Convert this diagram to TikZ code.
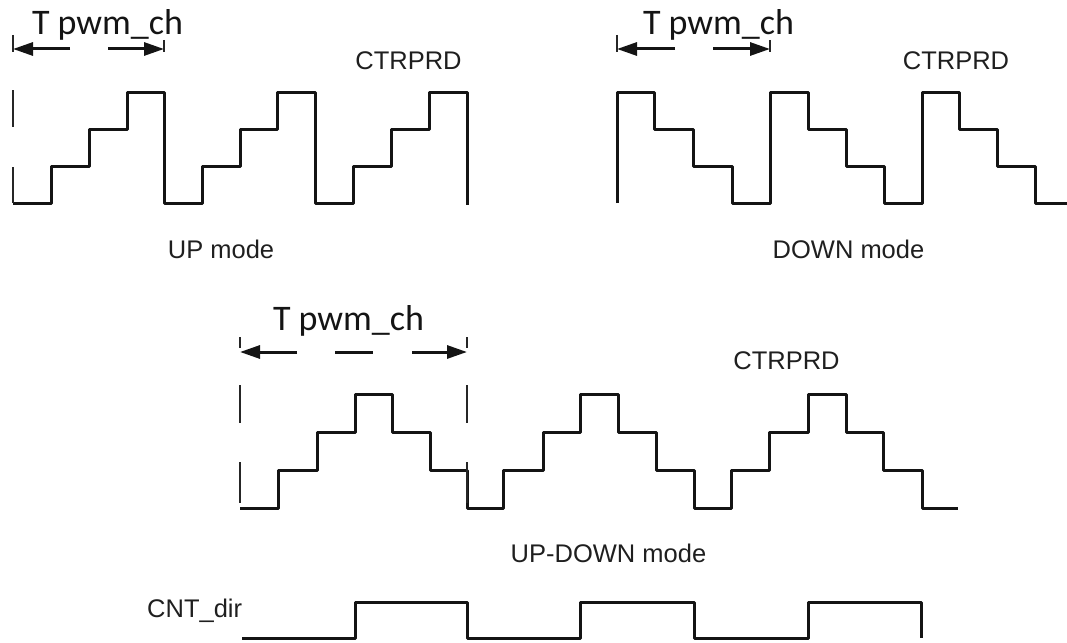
\documentclass[tikz,border=0pt]{standalone}
\usepackage{fontspec}
\setmainfont{Liberation Sans}
\newfontfamily\calfont{Carlito}
\usetikzlibrary{arrows.meta}
\begin{document}
\begin{tikzpicture}[x=1pt,y=-1pt,
  wave/.style={line width=3pt, line join=round, draw=black!92},
  dimline/.style={line width=3pt, draw=black!92},
  guide/.style={line width=2.4pt, draw=black!85},
  lbl/.style={inner sep=0pt, anchor=base, font=\fontsize{25.5}{30}\selectfont, text=black!88},
  tlbl/.style={inner sep=0pt, anchor=base, font=\calfont\fontsize{36}{42}\selectfont, text=black!92},
  tipend/.style={-{Triangle[length=20pt,width=13pt]}}
]
\useasboundingbox (0,0) rectangle (1067,642);

% ---------- UP mode ----------
\draw[wave] (13,203) -- (51,203) -- (51,166) -- (89,166) -- (89,129) -- (127,129) -- (127,92) -- (164,92) -- (164,203)
  -- (202,203) -- (202,166) -- (240,166) -- (240,129) -- (277,129) -- (277,92) -- (315,92) -- (315,203)
  -- (353,203) -- (353,166) -- (391,166) -- (391,129) -- (429,129) -- (429,92) -- (467,92) -- (467,205);
\draw[guide] (13,35) -- (13,52);
\draw[guide] (13,90) -- (13,127);
\draw[guide] (13,167) -- (13,203);
\draw[guide] (164,40) -- (164,52);
\coordinate (upA1) at (70,49);  \coordinate (upA1e) at (13,49);
\coordinate (upA2) at (108,49); \coordinate (upA2e) at (164,49);
\draw[dimline,tipend] (upA1) -- (upA1e);
\draw[dimline,tipend] (upA2) -- (upA2e);
\node[tlbl] (tup) at (107.5,35) {T pwm\_ch};
\node[lbl] (cup) at (408.5,69) {CTRPRD};
\node[lbl] (mup) at (221,258) {UP mode};

% ---------- DOWN mode ----------
\draw[wave] (617,203) -- (617,92) -- (654,92) -- (654,129) -- (693,129) -- (693,166) -- (732,166) -- (732,203)
  -- (770,203) -- (770,92) -- (808,92) -- (808,129) -- (846,129) -- (846,166) -- (884,166) -- (884,203)
  -- (922,203) -- (922,92) -- (959,92) -- (959,129) -- (997,129) -- (997,166) -- (1035,166) -- (1035,203) -- (1067,203);
\draw[guide] (617,35) -- (617,52);
\draw[guide] (770,40) -- (770,52);
\coordinate (dnA1) at (675,49); \coordinate (dnA1e) at (617,49);
\coordinate (dnA2) at (713,49); \coordinate (dnA2e) at (770,49);
\draw[dimline,tipend] (dnA1) -- (dnA1e);
\draw[dimline,tipend] (dnA2) -- (dnA2e);
\node[tlbl] (tdn) at (718.5,35) {T pwm\_ch};
\node[lbl] (cdn) at (956,69) {CTRPRD};
\node[lbl] (mdn) at (848.5,258) {DOWN mode};

% ---------- UP-DOWN mode ----------
\draw[wave] (240,508) -- (278,508) -- (278,470) -- (317,470) -- (317,432) -- (355,432) -- (355,394) -- (392,394)
  -- (392,432) -- (430,432) -- (430,470) -- (467,470) -- (467,508) -- (503,508)
  -- (503,470) -- (543,470) -- (543,432) -- (580,432) -- (580,394) -- (618,394)
  -- (618,432) -- (656,432) -- (656,470) -- (694,470) -- (694,508) -- (731,508)
  -- (731,470) -- (769,470) -- (769,432) -- (808,432) -- (808,394) -- (846,394)
  -- (846,432) -- (883,432) -- (883,470) -- (922,470) -- (922,508) -- (958,508);
\draw[guide] (240,337) -- (240,348);
\draw[guide] (240,385) -- (240,423);
\draw[guide] (240,462) -- (240,503);
\draw[guide] (467,337) -- (467,348);
\draw[guide] (467,385) -- (467,423);
\draw[guide] (467,462) -- (467,503);
\coordinate (udA1) at (297,352); \coordinate (udA1e) at (240,352);
\coordinate (udM1) at (335,352); \coordinate (udM2) at (373,352);
\coordinate (udA2) at (412,352); \coordinate (udA2e) at (467,352);
\draw[dimline,tipend] (udA1) -- (udA1e);
\draw[dimline] (udM1) -- (udM2);
\draw[dimline,tipend] (udA2) -- (udA2e);
\node[tlbl] (tud) at (348.5,330) {T pwm\_ch};
\node[lbl] (cud) at (786.5,369) {CTRPRD};
\node[lbl] (mud) at (608.5,562) {UP-DOWN mode};

% ---------- CNT_dir ----------
\node[lbl, anchor=base west] (cnt) at (147,617) {CNT\_dir};
\draw[wave] (242,638) -- (355,638) -- (355,602) -- (467,602) -- (467,638) -- (580,638) -- (580,602) -- (694,602)
  -- (694,638) -- (808,638) -- (808,602) -- (921,602) -- (921,638);
\end{tikzpicture}
\end{document}
